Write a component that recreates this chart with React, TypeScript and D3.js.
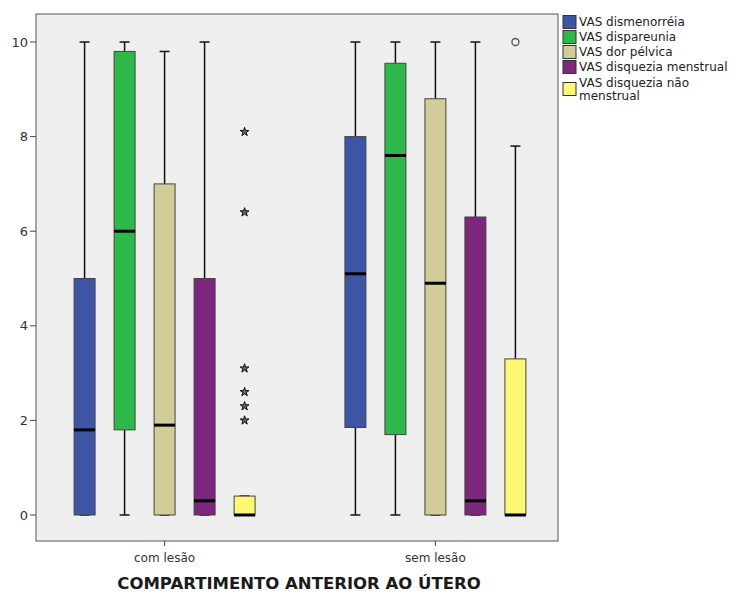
import React from "react";
import * as d3 from "d3";

const categories = ["com lesão", "sem lesão"];
const seriesNames = [
  "VAS dismenorréia",
  "VAS dispareunia",
  "VAS dor pélvica",
  "VAS disquezia menstrual",
  "VAS disquezia não menstrual",
];
const seriesColors = ["#3e55a6", "#2fb84a", "#d2cd98", "#7c287c", "#fcf873"];

// [min, q1, median, q3, max] per series, per category
const comLesao = [
  [0, 0, 1.8, 5, 10],
  [0, 1.8, 6, 9.8, 10],
  [0, 0, 1.9, 7, 9.8],
  [0, 0, 0.3, 5, 10],
  [0, 0, 0, 0.4, 0.4],
];
const semLesao = [
  [0, 1.85, 5.1, 8, 10],
  [0, 1.7, 7.6, 9.55, 10],
  [0, 0, 4.9, 8.8, 10],
  [0, 0, 0.3, 6.3, 10],
  [0, 0, 0, 3.3, 7.8],
];
// extremes (stars) and outliers (circles): [categoryIndex, seriesIndex, value]
const extremes = [
  [0, 4, 8.1],
  [0, 4, 6.4],
  [0, 4, 3.1],
  [0, 4, 2.6],
  [0, 4, 2.3],
  [0, 4, 2.0],
];
const outliers = [[1, 4, 10]];
const yTicks = [0, 2, 4, 6, 8, 10];
const xTitle = "COMPARTIMENTO ANTERIOR AO ÚTERO";

const W = 733;
const H = 594;
const left = 36;
const right = 558;
const top = 14;
const bottom = 541;

export default function App() {
  const stats = [comLesao, semLesao];
  const x = d3.scalePoint<string>().domain(categories).range([40, 560]).padding(0.46);
  const sx = d3
    .scaleBand<string>()
    .domain(seriesNames)
    .range([-100, 100])
    .paddingInner(0.475)
    .paddingOuter(0.2375);
  const y = d3.scaleLinear().domain([0, 10]).range([515, 42]);
  const bw = sx.bandwidth();
  const capW = 10;
  const font = "'DejaVu Sans', sans-serif";
  const star = d3.symbol().type(d3.symbolStar).size(24)();

  return (
    <svg
      width={W}
      height={H}
      style={{ position: "absolute", left: 0, top: 0, background: "#fff" }}
      fontFamily={font}
    >
      <rect x={left} y={top} width={right - left} height={bottom - top} fill="#efefef" stroke="#555" strokeWidth={1} />
      {/* y axis ticks */}
      {yTicks.map((t) => (
        <g key={t}>
          <line x1={left - 6} x2={left} y1={y(t)} y2={y(t)} stroke="#444" />
          <text x={left - 8} y={y(t)} dy="0.35em" textAnchor="end" fontSize={13} fill="#333">
            {t}
          </text>
        </g>
      ))}
      {/* x axis ticks */}
      {categories.map((c) => (
        <g key={c}>
          <line x1={x(c)!} x2={x(c)!} y1={bottom} y2={bottom + 5} stroke="#444" />
          <text x={x(c)!} y={bottom + 21} textAnchor="middle" fontSize={12} fill="#333">
            {c}
          </text>
        </g>
      ))}
      <text x={(left + right) / 2 + 2} y={589} textAnchor="middle" fontSize={16.5} fontWeight="bold" fill="#1a1a1a">
        {xTitle}
      </text>
      {/* boxes */}
      {categories.map((c, ci) =>
        seriesNames.map((s, si) => {
          const [mn, q1, md, q3, mx] = stats[ci][si];
          const cx = x(c)! + sx(s)! + bw / 2;
          const x0 = x(c)! + sx(s)!;
          return (
            <g key={c + s}>
              <line x1={cx} x2={cx} y1={y(q3)} y2={y(mx)} stroke="#111" strokeWidth={1.5} />
              <line x1={cx} x2={cx} y1={y(q1)} y2={y(mn)} stroke="#111" strokeWidth={1.5} />
              <line x1={cx - capW / 2} x2={cx + capW / 2} y1={y(mx)} y2={y(mx)} stroke="#111" strokeWidth={1.5} />
              <line x1={cx - capW / 2} x2={cx + capW / 2} y1={y(mn)} y2={y(mn)} stroke="#111" strokeWidth={1.5} />
              <rect
                x={x0}
                y={y(q3)}
                width={bw}
                height={Math.max(0, y(q1) - y(q3))}
                fill={seriesColors[si]}
                stroke="#444"
                strokeWidth={1}
              />
              <line x1={x0} x2={x0 + bw} y1={y(md)} y2={y(md)} stroke="#000" strokeWidth={3} />
            </g>
          );
        })
      )}
      {extremes.map(([ci, si, v], i) => {
        const cx = x(categories[ci])! + sx(seriesNames[si])! + bw / 2;
        return (
          <path key={"e" + i} d={star!} transform={`translate(${cx},${y(v)})`} fill="#666" stroke="#111" strokeWidth={1} />
        );
      })}
      {outliers.map(([ci, si, v], i) => {
        const cx = x(categories[ci])! + sx(seriesNames[si])! + bw / 2;
        return <circle key={"o" + i} cx={cx} cy={y(v)} r={3.5} fill="none" stroke="#555" strokeWidth={1.3} />;
      })}
      {/* legend */}
      {seriesNames.map((s, i) => {
        const rowY = [22, 37, 52, 67, 89][i];
        const lines = i === 4 ? ["VAS disquezia não", "menstrual"] : [s];
        return (
          <g key={s}>
            <rect x={563} y={rowY - 6.5} width={13} height={13} fill={seriesColors[i]} stroke="#333" strokeWidth={1} />
            {lines.map((l, li) => (
              <text
                key={li}
                x={579}
                y={(i === 4 ? 83 : rowY) + li * 13}
                dy="0.35em"
                fontSize={12}
                fill="#222"
              >
                {l}
              </text>
            ))}
          </g>
        );
      })}
    </svg>
  );
}
